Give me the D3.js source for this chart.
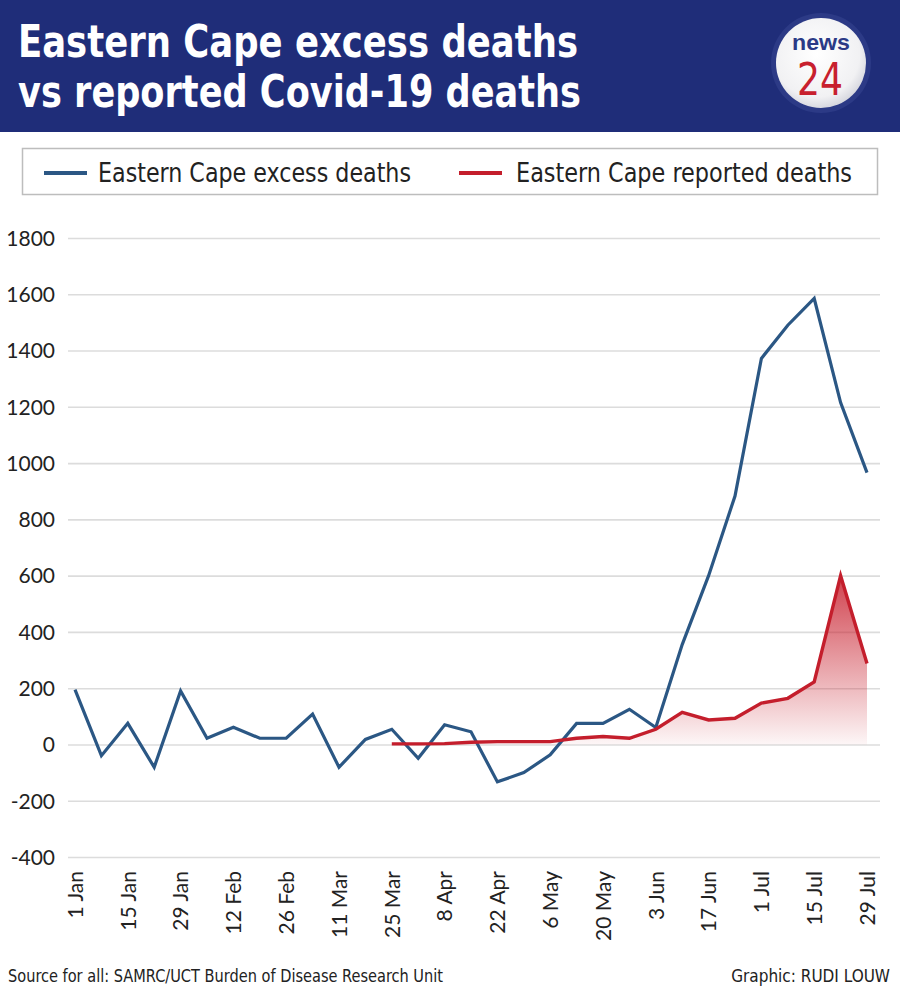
<!DOCTYPE html>
<html>
<head>
<meta charset="utf-8">
<script src="https://cdn.jsdelivr.net/npm/d3@7"></script>
<style>
  html, body { margin: 0; padding: 0; background: #fff; }
  svg { display: block; }
</style>
</head>
<body>
<svg id="chart" width="900" height="992"></svg>
<script>
// ---- data ----
const weekStart = "2020-01-01";
const excessDeaths = [195,-40,75,-81,190,22,61,22,22,108,-81,18,54,-49,70,45,-133,-100,-37,75,75,125,60,355,600,883,1372,1490,1585,1215,966];
const reportedStartWeek = 12;
const reportedDeaths = [2,2,3,8,10,10,10,22,28,22,54,114,87,93,147,164,222,600,288];
const tickLabels = ["1 Jan","15 Jan","29 Jan","12 Feb","26 Feb","11 Mar","25 Mar","8 Apr","22 Apr","6 May","20 May","3 Jun","17 Jun","1 Jul","15 Jul","29 Jul"];
const yTicks = [-400,-200,0,200,400,600,800,1000,1200,1400,1600,1800];
const titleLines = ["Eastern Cape excess deaths","vs reported Covid-19 deaths"];
const seriesNames = ["Eastern Cape excess deaths","Eastern Cape reported deaths"];
const sourceText = "Source for all: SAMRC/UCT Burden of Disease Research Unit";
const creditText = "Graphic: RUDI LOUW";

// ---- setup ----
const svg = d3.select("#chart");
const navy = "#1f2d79";
const blue = "#2b5784";
const red = "#c41e2c";
const condensed = "'DejaVu Sans Condensed','Liberation Sans Narrow','Roboto',sans-serif";
const tickFont = "Lato,'Open Sans',sans-serif";

const parse = d3.timeParse("%Y-%m-%d");
const start = parse(weekStart);
const dateAt = i => d3.timeDay.offset(start, 7 * i);
const excess = excessDeaths.map((v, i) => ({ date: dateAt(i), value: v }));
const reported = reportedDeaths.map((v, i) => ({ date: dateAt(i + reportedStartWeek), value: v }));

const x = d3.scaleTime().domain([start, dateAt(excessDeaths.length - 1)]).range([75, 867]);
const y = d3.scaleLinear().domain([-400, 1800]).range([857, 238]);

// ---- header ----
svg.append("rect").attr("x", 0).attr("y", 0).attr("width", 900).attr("height", 132).attr("fill", navy);
svg.selectAll("text.title").data(titleLines).enter().append("text")
  .attr("class", "title")
  .attr("x", 18).attr("y", (d, i) => 57 + i * 50)
  .attr("fill", "#fff")
  .attr("font-family", condensed)
  .attr("font-weight", "bold")
  .attr("font-size", 45)
  .attr("textLength", (d, i) => i === 0 ? 560 : 563)
  .attr("lengthAdjust", "spacingAndGlyphs")
  .text(d => d);

// logo
const defs = svg.append("defs");
const logo = svg.append("g").attr("transform", "translate(821,63)");
logo.append("circle").attr("r", 50).attr("fill", "#2c3a86");
const lg = defs.append("radialGradient").attr("id", "logoGrad")
  .attr("cx", "45%").attr("cy", "40%").attr("r", "60%");
lg.append("stop").attr("offset", "0%").attr("stop-color", "#ffffff");
lg.append("stop").attr("offset", "80%").attr("stop-color", "#f1f1f3");
lg.append("stop").attr("offset", "100%").attr("stop-color", "#d8d9e0");
logo.append("circle").attr("r", 45).attr("fill", "url(#logoGrad)");
logo.append("text").attr("x", 0).attr("y", -13).attr("text-anchor", "middle")
  .attr("font-family", "'Liberation Sans',Arial,sans-serif").attr("font-weight", "bold")
  .attr("font-size", 22).attr("fill", "#2b3a86")
  .attr("textLength", 58).attr("lengthAdjust", "spacingAndGlyphs").text("news");
logo.append("text").attr("x", -1).attr("y", 32).attr("text-anchor", "middle")
  .attr("font-family", "'Liberation Sans Narrow','DejaVu Sans Condensed',sans-serif")
  .attr("font-size", 44).attr("fill", "#c8202e")
  .attr("textLength", 46).attr("lengthAdjust", "spacingAndGlyphs").text("24");

// ---- legend ----
svg.append("rect").attr("x", 22.5).attr("y", 148.5).attr("width", 855).attr("height", 46)
  .attr("fill", "#fff").attr("stroke", "#bdbdbd").attr("stroke-width", 1.5);
const legendItems = [
  { name: seriesNames[0], color: blue, x0: 44, tx: 98, tw: 313 },
  { name: seriesNames[1], color: red, x0: 459, tx: 516, tw: 336 }
];
const leg = svg.selectAll("g.leg").data(legendItems).enter().append("g").attr("class", "leg");
leg.append("line").attr("x1", d => d.x0).attr("x2", d => d.x0 + 43)
  .attr("y1", 173).attr("y2", 173).attr("stroke", d => d.color).attr("stroke-width", 4);
leg.append("text").attr("x", d => d.tx).attr("y", 182)
  .attr("font-family", condensed).attr("font-size", 26).attr("fill", "#222")
  .attr("textLength", d => d.tw).attr("lengthAdjust", "spacingAndGlyphs")
  .text(d => d.name);

// ---- grid + y axis ----
const yAxis = d3.axisLeft(y).tickValues(yTicks).tickSize(0).tickPadding(13).tickFormat(d => String(d));
const yg = svg.append("g").attr("transform", "translate(68,0)").call(yAxis);
yg.select(".domain").remove();
yg.selectAll(".tick line").attr("stroke", "#dcdcdc").attr("stroke-width", 1.6).attr("x1", 0).attr("x2", 812);
yg.selectAll(".tick text").attr("font-family", tickFont).attr("font-size", 21).attr("fill", "#222").attr("x", -13).attr("dy", "0.35em");

// ---- x axis ----
const tickDates = tickLabels.map((t, i) => dateAt(i * 2));
const xAxis = d3.axisBottom(x).tickValues(tickDates).tickSize(0).tickFormat((d, i) => tickLabels[i]);
const xg = svg.append("g").attr("transform", "translate(0,868)").call(xAxis);
xg.select(".domain").remove();
xg.selectAll(".tick text")
  .attr("font-family", tickFont).attr("font-size", 21).attr("fill", "#222")
  .attr("transform", "rotate(-90)")
  .attr("text-anchor", "end")
  .attr("x", -3).attr("y", 0).attr("dy", "0.35em");

// ---- area gradient ----
const grad = defs.append("linearGradient").attr("id", "redGrad")
  .attr("gradientUnits", "userSpaceOnUse")
  .attr("x1", 0).attr("x2", 0).attr("y1", y(600)).attr("y2", y(0));
grad.append("stop").attr("offset", "0%").attr("stop-color", "#c8202e").attr("stop-opacity", 0.85);
grad.append("stop").attr("offset", "100%").attr("stop-color", "#c8202e").attr("stop-opacity", 0.04);

const area = d3.area().x(d => x(d.date)).y0(y(0)).y1(d => y(d.value));
svg.append("path").datum(reported).attr("d", area).attr("fill", "url(#redGrad)");

// ---- lines ----
const line = d3.line().x(d => x(d.date)).y(d => y(d.value));
svg.append("path").datum(excess).attr("d", line)
  .attr("fill", "none").attr("stroke", blue).attr("stroke-width", 3.2).attr("stroke-linejoin", "miter");
svg.append("path").datum(reported).attr("d", line)
  .attr("fill", "none").attr("stroke", red).attr("stroke-width", 3.4).attr("stroke-linejoin", "miter");

// ---- footer ----
svg.append("text").attr("x", 8).attr("y", 982)
  .attr("font-family", condensed).attr("font-size", 18).attr("fill", "#222")
  .attr("textLength", 435).attr("lengthAdjust", "spacingAndGlyphs").text(sourceText);
svg.append("text").attr("x", 890).attr("y", 982).attr("text-anchor", "end")
  .attr("font-family", condensed).attr("font-size", 17).attr("fill", "#222")
  .text(creditText);
</script>
</body>
</html>
